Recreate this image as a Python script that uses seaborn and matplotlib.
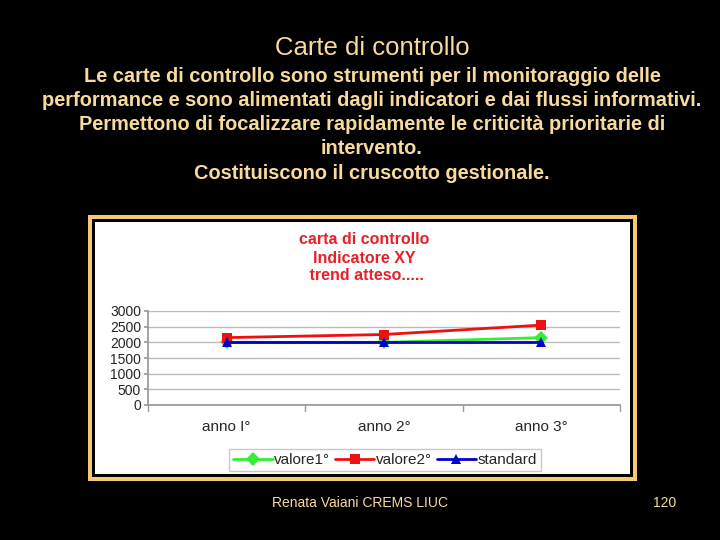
import pandas as pd
import seaborn as sns
import matplotlib.pyplot as plt
from matplotlib.patches import Rectangle

anni = ['anno I°', 'anno 2°', 'anno 3°']
valore1 = [2000, 2000, 2150]
valore2 = [2150, 2250, 2550]
standard = [2000, 2000, 2000]
y_ticks = [0, 500, 1000, 1500, 2000, 2500, 3000]

df = pd.DataFrame({
    'x': list(range(3)) * 3,
    'valore': valore1 + valore2 + standard,
    'serie': ['valore1°'] * 3 + ['valore2°'] * 3 + ['standard'] * 3,
})

sns.set_theme(style='white')
plt.rcParams['font.family'] = ['Liberation Sans', 'DejaVu Sans']

crema = '#F8DA9C'

fig = plt.figure(figsize=(7.2, 5.4), dpi=100)
fig.patch.set_facecolor('black')

# slide text
fig.text(372 / 720, 1 - 48 / 540, 'Carte di controllo', color=crema, fontsize=18.5,
         ha='center', va='center')
body = ['Le carte di controllo sono strumenti per il monitoraggio delle',
        'performance e sono alimentati dagli indicatori e dai flussi informativi.',
        'Permettono di focalizzare rapidamente le criticità prioritarie di',
        'intervento.',
        'Costituiscono il cruscotto gestionale.']
for i, line in enumerate(body):
    fig.text(372 / 720, 1 - (76 + 24.3 * i) / 540, line, color=crema, fontsize=14.4,
             fontweight='bold', ha='center', va='center')

fig.text(360 / 720, 1 - 503 / 540, 'Renata Vaiani CREMS LIUC', color=crema,
         fontsize=10, ha='center', va='center')
fig.text(665 / 720, 1 - 503 / 540, '120', color=crema, fontsize=10,
         ha='center', va='center')

# chart frame
fig.patches.append(Rectangle((88 / 720, 1 - 481 / 540), 549 / 720, 266 / 540,
                             transform=fig.transFigure, facecolor='#F6C873',
                             edgecolor='none', zorder=0))
fig.patches.append(Rectangle((92 / 720, 1 - 477 / 540), 541 / 720, 258 / 540,
                             transform=fig.transFigure, facecolor='black',
                             edgecolor='none', zorder=0))
fig.patches.append(Rectangle((95 / 720, 1 - 474 / 540), 535 / 720, 252 / 540,
                             transform=fig.transFigure, facecolor='white',
                             edgecolor='none', zorder=0))

for i, t in enumerate(['carta di controllo', 'Indicatore XY', ' trend atteso.....']):
    fig.text(364 / 720, 1 - (240 + 18 * i) / 540, t, color='#E8202A',
             fontsize=11.5, fontweight='bold', ha='center', va='center')

ax = fig.add_axes([148 / 720, 1 - 405 / 540, 472 / 720, 94 / 540])
ax.set_zorder(5)
ax.set_facecolor('white')
sns.lineplot(data=df, x='x', y='valore', hue='serie', style='serie',
             palette={'valore1°': '#33EE33', 'valore2°': '#EE1111', 'standard': '#0000CC'},
             markers={'valore1°': 'D', 'valore2°': 's', 'standard': '^'},
             dashes=False, linewidth=2, markersize=7, markeredgewidth=0,
             ax=ax, legend=True)

ax.set_xlim(-0.5, 2.5)
ax.set_ylim(0, 3000)
ax.set_yticks(y_ticks)
ax.set_yticklabels([str(v) for v in y_ticks], fontsize=10)
ax.set_xticks(range(3))
ax.set_xticklabels(anni, fontsize=11)
ax.tick_params(axis='x', length=0, pad=11)
ax.tick_params(axis='y', length=3, color='#999999', left=True, pad=2)
ax.grid(axis='y', color='#BBBBBB', linewidth=1)
ax.set_axisbelow(True)
for side in ['top', 'right']:
    ax.spines[side].set_visible(False)
ax.spines['left'].set_color('#999999')
ax.spines['bottom'].set_color('#999999')
for b in [-0.5, 0.5, 1.5, 2.5]:
    ax.plot([b, b], [0, -0.06], transform=ax.get_xaxis_transform(),
            color='#999999', linewidth=1, clip_on=False)
ax.set_xlabel('')
ax.set_ylabel('')

leg = ax.legend(loc='center', bbox_to_anchor=(385 / 720, 1 - 460 / 540),
                bbox_transform=fig.transFigure, ncol=3, fontsize=11,
                frameon=True, fancybox=False, handlelength=2.6,
                columnspacing=0.3, handletextpad=0.1, borderpad=0.25)
leg.get_frame().set_edgecolor('#BBBBBB')
leg.get_frame().set_linewidth(1)

fig.savefig('out.png', dpi=100, facecolor='black')
